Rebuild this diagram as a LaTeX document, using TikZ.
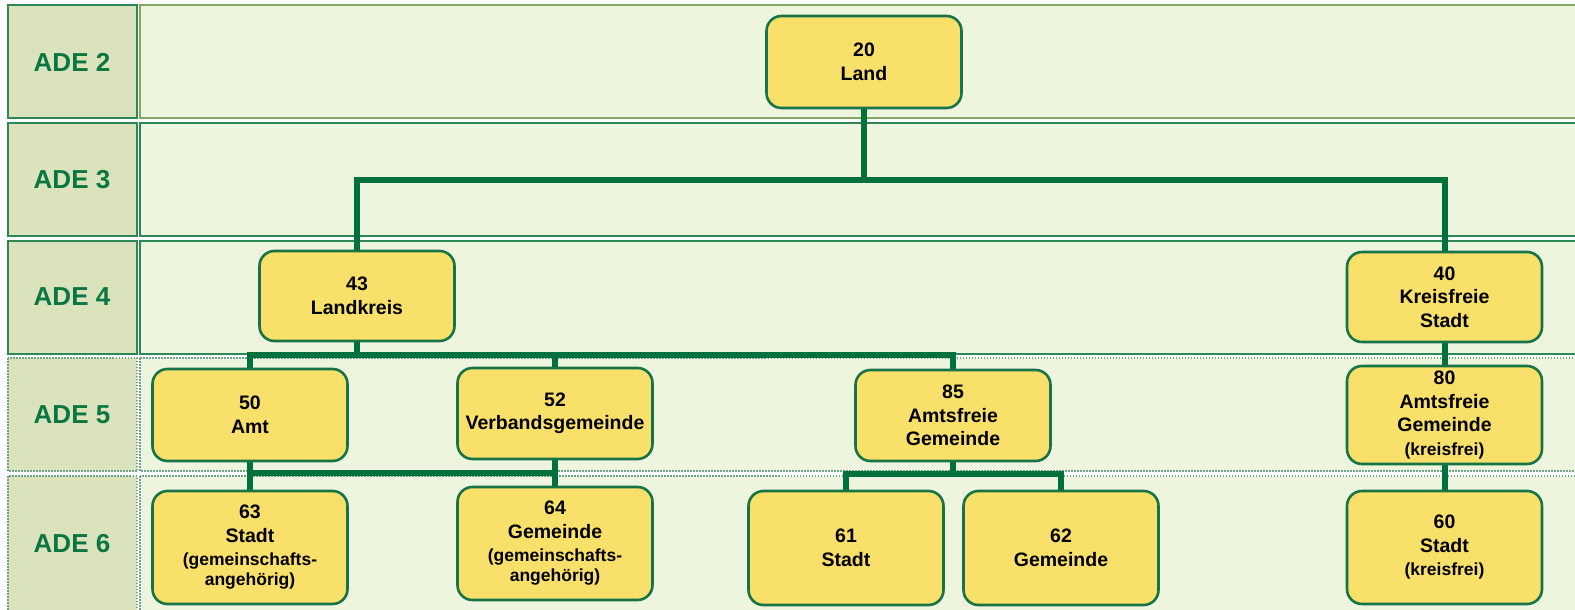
\documentclass[tikz,border=0pt]{standalone}
\usepackage{fontspec}
\setmainfont{Liberation Sans}
\definecolor{lblfill}{HTML}{DAE3BB}
\definecolor{panelfill}{HTML}{EEF5DE}
\definecolor{rowline}{HTML}{2E8757}
\definecolor{oliveline}{HTML}{84A862}
\definecolor{dotline}{HTML}{6FA38C}
\definecolor{boxfill}{HTML}{F9E06A}
\definecolor{boxline}{HTML}{167446}
\definecolor{conncol}{HTML}{00703C}
\definecolor{lbltext}{HTML}{0A7643}
\tikzset{
  rowsolid/.style={draw=rowline, line width=1.1pt},
  rowolive/.style={draw=oliveline, line width=1.1pt},
  rowdotted/.style={draw=dotline, line width=1.2pt, dash pattern=on 1.5pt off 1.5pt},
  lblbox/.style={fill=lblfill},
  panelbox/.style={fill=panelfill},
  lbltxt/.style={text=lbltext, font=\fontsize{26}{30}\selectfont\bfseries},
  unit/.style={draw=boxline, fill=boxfill, line width=2.6pt, rounded corners=15pt,
    minimum width=195pt, text width=190pt, align=center, inner sep=0pt,
    font=\fontsize{19.5}{23.5}\selectfont\bfseries},
  conn/.style={draw=conncol, line width=5.7pt, line join=miter}
}
\newcommand{\smalltxt}{\fontsize{17.5}{23.5}\selectfont}
\begin{document}
\begin{tikzpicture}[x=1pt,y=-1pt]
\useasboundingbox (0,0) rectangle (1575,610);
% rows
\path[lblbox,rowsolid] (8,5) rectangle (137,118);
\path[panelbox,rowolive] (140,5) rectangle (1582,118);
\path[lblbox,rowsolid] (8,123) rectangle (137,236);
\path[panelbox,rowsolid] (140,123) rectangle (1582,236);
\path[lblbox,rowsolid] (8,241) rectangle (137,354);
\path[panelbox,rowsolid] (140,241) rectangle (1582,354);
\path[lblbox,rowdotted] (8,358) rectangle (137,471);
\path[panelbox,rowdotted] (140,358) rectangle (1582,471);
\path[lblbox,rowdotted] (8,476) rectangle (137,620);
\path[panelbox,rowdotted] (140,476) rectangle (1582,620);
\node[lbltxt] (ade2) at (72,62) {ADE 2};
\node[lbltxt] (ade3) at (72,180) {ADE 3};
\node[lbltxt] (ade4) at (72,297) {ADE 4};
\node[lbltxt] (ade5) at (72,415) {ADE 5};
\node[lbltxt] (ade6) at (72,544) {ADE 6};
% junction coordinates
\coordinate (j1) at (864,180);
\coordinate (j2) at (357,355);
\coordinate (j3) at (250,473);
\coordinate (j4) at (555,473);
\coordinate (j5) at (953,474);
% connectors (drawn first, nodes on top)
\draw[conn] (864,108) -- (j1);
\draw[conn] (j1) -| (357,251);
\draw[conn] (j1) -| (1445,252);
\draw[conn] (357,341) -- (j2);
\draw[conn] (j2) -| (250,369);
\draw[conn] (j2) -| (555,368);
\draw[conn] (j2) -| (953,370);
\draw[conn] (250,461) -- (j3) -- (250,491);
\draw[conn] (j3) -- (j4);
\draw[conn] (555,459) -- (j4) -- (555,487);
\draw[conn] (953,461) -- (j5);
\draw[conn] (j5) -| (846,491);
\draw[conn] (j5) -| (1061,491);
\draw[conn] (1445,342) -- (1445,366);
\draw[conn] (1445,464) -- (1445,491);
% nodes
\node[unit, minimum height=92pt] (land) at (864,62) {20\\Land};
\node[unit, minimum height=90pt] (lk) at (357,296) {43\\Landkreis};
\node[unit, minimum height=90pt] (ks) at (1444.5,297) {40\\Kreisfreie\\Stadt};
\node[unit, minimum height=92pt] (amt) at (250,415) {50\\Amt};
\node[unit, minimum height=91pt] (vg) at (555,413.5) {52\\Verbandsgemeinde};
\node[unit, minimum height=91pt] (af) at (953,415.5) {85\\Amtsfreie\\Gemeinde};
\node[unit, minimum height=98pt] (af80) at (1444.5,415) {80\\Amtsfreie\\Gemeinde\\{\smalltxt (kreisfrei)}};
\node[unit, minimum height=113pt] (s63) at (250,547.5) {63\\Stadt\\{\smalltxt (gemeinschafts-}\\[-3.5pt]{\smalltxt angehörig)}};
\node[unit, minimum height=113pt] (g64) at (555,543.5) {64\\Gemeinde\\{\smalltxt (gemeinschafts-}\\[-3.5pt]{\smalltxt angehörig)}};
\node[unit, minimum height=114pt] (s61) at (846,548) {61\\Stadt};
\node[unit, minimum height=114pt] (g62) at (1061,548) {62\\Gemeinde};
\node[unit, minimum height=113pt] (s60) at (1444.5,547.5) {60\\Stadt\\{\smalltxt (kreisfrei)}};
\end{tikzpicture}
\end{document}
